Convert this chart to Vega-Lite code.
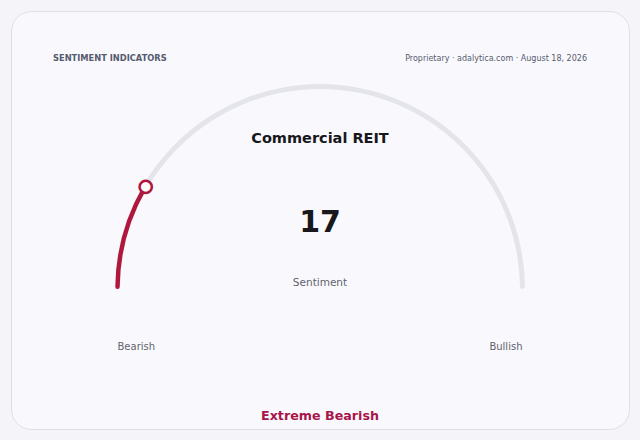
{
  "$schema": "https://vega.github.io/schema/vega-lite/v6.json",
  "autosize": "none",
  "width": 618,
  "height": 418,
  "padding": {"left": 11, "top": 11, "right": 11, "bottom": 11},
  "background": "#f4f4f9",
  "config": {
    "view": {"fill": "#f9f9fd", "stroke": "#dedee8", "strokeWidth": 1, "cornerRadius": 20},
    "font": "DejaVu Sans"
  },
  "datasets": {
    "gauge": [{"label": "Commercial REIT", "metric": "Sentiment", "value": 17, "min": 0, "max": 100, "status": "Extreme Bearish"}]
  },
  "data": {"name": "gauge"},
  "layer": [
    {
      "mark": {"type": "arc", "innerRadius": 200, "outerRadius": 205, "cornerRadius": 2.5, "yOffset": 69, "color": "#e4e4eb"},
      "encoding": {
        "theta": {"field": "min", "type": "quantitative", "scale": {"domain": [0, 100], "range": [-1.5708, 1.5708]}},
        "theta2": {"field": "max"}
      }
    },
    {
      "mark": {"type": "arc", "innerRadius": 200.3, "outerRadius": 204.7, "cornerRadius": 2.2, "yOffset": 69, "color": "#b0173c"},
      "encoding": {
        "theta": {"field": "min", "type": "quantitative", "scale": {"domain": [0, 100], "range": [-1.5708, 1.5708]}},
        "theta2": {"field": "value"}
      }
    },
    {
      "mark": {"type": "text", "text": "●", "radius": 202.5, "yOffset": 69, "fontSize": 16, "fill": "#ffffff", "stroke": "#b0173c", "strokeWidth": 2.5, "align": "center", "baseline": "middle"},
      "encoding": {
        "theta": {"field": "value", "type": "quantitative", "stack": null, "scale": {"domain": [0, 100], "range": [-1.5708, 1.5708]}}
      }
    },
    {
      "mark": {"type": "text", "text": "SENTIMENT INDICATORS", "fontSize": 8.3, "fontWeight": "bold", "color": "#565b6e", "align": "left", "baseline": "middle"},
      "encoding": {
        "x": {"datum": -1.3185, "type": "quantitative", "scale": {"domain": [-1.526, 1.526], "nice": false, "zero": false}, "axis": null},
        "y": {"datum": 1.1307, "type": "quantitative", "scale": {"domain": [-0.6963, 1.3679], "nice": false, "zero": false}, "axis": null}
      }
    },
    {
      "mark": {"type": "text", "text": "Proprietary · adalytica.com · August 18, 2026", "fontSize": 8, "color": "#565b6e", "align": "right", "baseline": "middle"},
      "encoding": {
        "x": {"datum": 1.3185, "type": "quantitative"},
        "y": {"datum": 1.1307, "type": "quantitative"}
      }
    },
    {
      "mark": {"type": "text", "fontSize": 14.5, "fontWeight": "bold", "color": "#17171c", "align": "center", "baseline": "middle"},
      "encoding": {
        "text": {"field": "label"},
        "x": {"datum": 0, "type": "quantitative"},
        "y": {"datum": 0.7357, "type": "quantitative"}
      }
    },
    {
      "mark": {"type": "text", "fontSize": 30, "fontWeight": "bold", "color": "#17171c", "align": "center", "baseline": "middle"},
      "encoding": {
        "text": {"field": "value", "type": "quantitative"},
        "x": {"datum": 0, "type": "quantitative"},
        "y": {"datum": 0.3209, "type": "quantitative"}
      }
    },
    {
      "mark": {"type": "text", "fontSize": 10.5, "color": "#62626f", "align": "center", "baseline": "middle"},
      "encoding": {
        "text": {"field": "metric"},
        "x": {"datum": 0, "type": "quantitative"},
        "y": {"datum": 0.0246, "type": "quantitative"}
      }
    },
    {
      "mark": {"type": "text", "text": "Bearish", "fontSize": 10, "color": "#62626f", "align": "left", "baseline": "middle"},
      "encoding": {
        "x": {"datum": -1, "type": "quantitative"},
        "y": {"datum": -0.2915, "type": "quantitative"}
      }
    },
    {
      "mark": {"type": "text", "text": "Bullish", "fontSize": 10, "color": "#62626f", "align": "right", "baseline": "middle"},
      "encoding": {
        "x": {"datum": 1, "type": "quantitative"},
        "y": {"datum": -0.2915, "type": "quantitative"}
      }
    },
    {
      "mark": {"type": "text", "fontSize": 12.7, "fontWeight": "bold", "color": "#a8154a", "align": "center", "baseline": "middle"},
      "encoding": {
        "text": {"field": "status"},
        "x": {"datum": 0, "type": "quantitative"},
        "y": {"datum": -0.632, "type": "quantitative"}
      }
    }
  ]
}
